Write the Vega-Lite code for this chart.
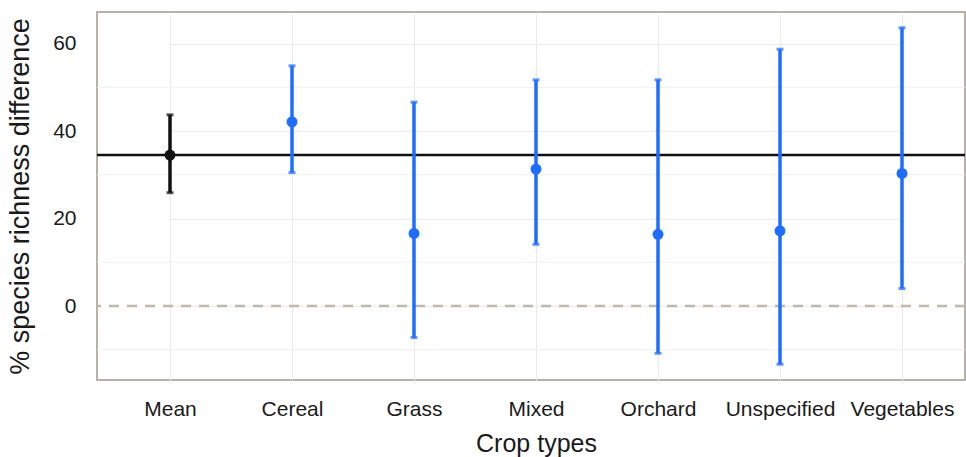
{
  "$schema": "https://vega.github.io/schema/vega-lite/v6.json",
  "width": 868,
  "height": 368,
  "autosize": {"type": "none"},
  "padding": {"left": 97, "top": 12, "right": 1, "bottom": 77},
  "config": {
    "view": {"stroke": "#9e998f", "strokeWidth": 1.5},
    "font": "Liberation Sans",
    "axis": {"labelFont": "Liberation Sans", "titleFont": "Liberation Sans"}
  },
  "datasets": {
    "est": [
      {"crop": "Mean", "estimate": 34.5, "lower": 25.9, "upper": 43.7, "group": "Overall"},
      {"crop": "Cereal", "estimate": 42.1, "lower": 30.5, "upper": 54.9, "group": "Crop"},
      {"crop": "Grass", "estimate": 16.6, "lower": -7.2, "upper": 46.6, "group": "Crop"},
      {"crop": "Mixed", "estimate": 31.3, "lower": 14.1, "upper": 51.7, "group": "Crop"},
      {"crop": "Orchard", "estimate": 16.4, "lower": -10.8, "upper": 51.7, "group": "Crop"},
      {"crop": "Unspecified", "estimate": 17.2, "lower": -13.3, "upper": 58.7, "group": "Crop"},
      {"crop": "Vegetables", "estimate": 30.3, "lower": 4.0, "upper": 63.6, "group": "Crop"}
    ],
    "minor": [{"y": -10}, {"y": 10}, {"y": 30}, {"y": 50}],
    "refs": [
      {"kind": "zero", "y": 0},
      {"kind": "mean", "y": 34.5}
    ]
  },
  "layer": [
    {
      "data": {"name": "minor"},
      "mark": {"type": "rule", "color": "#f0f0f0", "strokeWidth": 1},
      "encoding": {
        "y": {"field": "y", "type": "quantitative", "scale": {"domain": [-16.9, 67.2], "nice": false, "zero": false}}
      }
    },
    {
      "data": {"name": "refs"},
      "transform": [{"filter": "datum.kind === 'zero'"}],
      "mark": {"type": "rule", "color": "#bfb8ab", "strokeWidth": 2.5, "strokeDash": [10, 8]},
      "encoding": {
        "y": {"field": "y", "type": "quantitative"}
      }
    },
    {
      "data": {"name": "refs"},
      "transform": [{"filter": "datum.kind === 'mean'"}],
      "mark": {"type": "rule", "color": "#111111", "strokeWidth": 2.5},
      "encoding": {
        "y": {"field": "y", "type": "quantitative"}
      }
    },
    {
      "data": {"name": "est"},
      "mark": {"type": "rule", "strokeWidth": 3.5},
      "encoding": {
        "x": {"field": "crop", "type": "nominal", "sort": null},
        "y": {"field": "lower", "type": "quantitative"},
        "y2": {"field": "upper"},
        "color": {"field": "group", "type": "nominal", "scale": {"domain": ["Overall", "Crop"], "range": ["#111111", "#1f6dff"]}, "legend": null}
      }
    },
    {
      "data": {"name": "est"},
      "mark": {"type": "tick", "orient": "horizontal", "size": 7, "thickness": 3},
      "encoding": {
        "x": {"field": "crop", "type": "nominal", "sort": null},
        "y": {"field": "lower", "type": "quantitative"},
        "color": {"field": "group", "type": "nominal", "legend": null}
      }
    },
    {
      "data": {"name": "est"},
      "mark": {"type": "tick", "orient": "horizontal", "size": 7, "thickness": 3},
      "encoding": {
        "x": {"field": "crop", "type": "nominal", "sort": null},
        "y": {"field": "upper", "type": "quantitative"},
        "color": {"field": "group", "type": "nominal", "legend": null}
      }
    },
    {
      "data": {"name": "est"},
      "mark": {"type": "point", "filled": true, "opacity": 1, "size": 120},
      "encoding": {
        "x": {
          "field": "crop", "type": "nominal", "sort": null,
          "scale": {"type": "point", "domain": ["Mean", "Cereal", "Grass", "Mixed", "Orchard", "Unspecified", "Vegetables"], "range": [73, 805], "padding": 0},
          "axis": {
            "title": "Crop types", "titleFontSize": 25, "titleFontWeight": "normal", "titleColor": "#1a1a1a", "titlePadding": 12,
            "labelAngle": 0, "labelAlign": "center", "labelFontSize": 21, "labelColor": "#1a1a1a", "labelPadding": 29,
            "ticks": false,
            "domain": false, "grid": true, "gridColor": "#ebebeb", "gridWidth": 1
          }
        },
        "y": {
          "field": "estimate", "type": "quantitative",
          "axis": {
            "title": "% species richness difference", "titleFontSize": 27, "titleFontWeight": "normal", "titleColor": "#1a1a1a", "titlePadding": 18,
            "values": [0, 20, 40, 60],
            "labelFontSize": 21, "labelColor": "#1a1a1a", "labelPadding": 21,
            "ticks": false,
            "domain": false, "grid": true, "gridColor": "#ebebeb", "gridWidth": 1
          }
        },
        "color": {"field": "group", "type": "nominal", "legend": null}
      }
    }
  ]
}
